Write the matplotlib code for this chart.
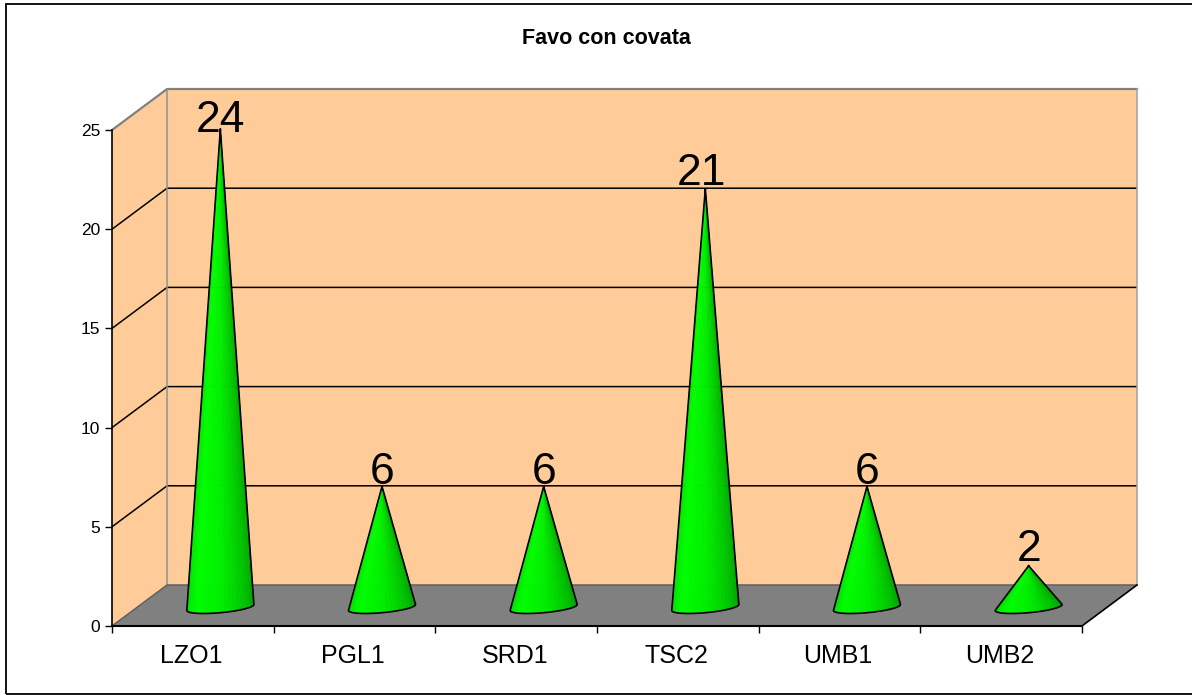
import numpy as np
import matplotlib
matplotlib.use('Agg')
import matplotlib.pyplot as plt
from matplotlib.patches import Polygon, Rectangle
from matplotlib.colors import LinearSegmentedColormap
from matplotlib.transforms import ScaledTranslation

plt.rcParams['font.family'] = ['Liberation Sans', 'DejaVu Sans']

categorie = ['LZO1', 'PGL1', 'SRD1', 'TSC2', 'UMB1', 'UMB2']
favo = [24, 6, 6, 21, 6, 2]
yticks = [0, 5, 10, 15, 20, 25]
griglia = [5, 10, 15, 20]

# pixel layout of the reference
W, H = 1192, 695
left, right, top, bottom = 112, 1137, 89, 626
cat_px = 161.5
unit_px = 19.84
dx = 55 / cat_px   # depth of the box, in category units
dy = 41 / unit_px  # depth of the box, in value units
ymax = 25
n = len(categorie)

# nudges of the big labels, in pixels
nudge_x = [0.5, 0, 0, -3.5, 0, 0]
nudge_y = [-3, 2, 2, 4, 2, 5]

fig = plt.figure(figsize=(W / 100, H / 100), dpi=100)
fig.patches.append(Rectangle((6 / W, 1.5 / H), W / W, (H - 5.5) / H,
                             transform=fig.transFigure, fill=False,
                             edgecolor='black', linewidth=1.3))
ax = fig.add_axes([left / W, 1 - bottom / H, (right - left) / W, (bottom - top) / H])
ax.set_xlim(-0.5, n - 0.5 + dx)
ax.set_ylim(0, ymax + dy)
ax.patch.set_visible(False)

x0, x1 = -0.5, n - 0.5

# walls and floor
ax.add_patch(Polygon([(x0 + dx, dy), (x1 + dx, dy), (x1 + dx, ymax + dy), (x0 + dx, ymax + dy)],
                     facecolor='#FFCC99', edgecolor='none', zorder=1))
ax.add_patch(Polygon([(x0, 0), (x0 + dx, dy), (x0 + dx, ymax + dy), (x0, ymax)],
                     facecolor='#FFCC99', edgecolor='none', zorder=1))
ax.add_patch(Polygon([(x0, 0), (x0 + dx, dy), (x1 + dx, dy), (x1, 0)],
                     facecolor='#808080', edgecolor='none', zorder=1))

# gridlines on back and left wall
for v in griglia:
    ax.plot([x0, x0 + dx, x1 + dx], [v, v + dy, v + dy], color='black', lw=1.1, zorder=2)

# box edges
ax.plot([x0, x0 + dx, x1 + dx], [ymax, ymax + dy, ymax + dy], color='#808080', lw=1.6, zorder=2,
        clip_on=False)
ax.plot([x0 + dx, x0 + dx], [dy, ymax + dy], color='#909090', lw=1.1, zorder=2)
ax.plot([x1 + dx, x1 + dx], [dy, ymax + dy], color='#A0A0A0', lw=1.1, zorder=2, clip_on=False)
ax.plot([x0, x0 + dx, x1 + dx], [0, dy, dy], color='#606060', lw=1.1, zorder=2)
ax.plot([x1, x1 + dx], [0, dy], color='black', lw=1.2, zorder=2, clip_on=False)

# cones
verde = LinearSegmentedColormap.from_list('verde', ['#00D800', '#00FF00', '#00F000', '#00C800', '#009C00'])
theta = np.linspace(0, np.pi, 25)
base_r = 33.5 / cat_px
cx_bx = -np.cos(theta)
cx_by = np.sin(theta)
for i, v in enumerate(favo):
    cx = i + dx / 2
    cy = dy / 2
    bx = cx + base_r * cx_bx
    by = cy - (2 + 5.2 * cx_by - 3 * cx_bx) / unit_px
    tip = cy + v
    for k in range(len(theta) - 1):
        ax.add_patch(Polygon([(cx, tip), (bx[k], by[k]), (bx[k + 1], by[k + 1])],
                             facecolor=verde(k / (len(theta) - 2)),
                             edgecolor=verde(k / (len(theta) - 2)), lw=0.4, zorder=3))
    ax.plot(np.r_[cx, bx, cx], np.r_[tip, by, tip], color='black', lw=1.2, zorder=4,
            solid_joinstyle='round')
    ax.annotate(str(v), (cx, tip), xytext=(nudge_x[i], nudge_y[i]), textcoords='offset pixels',
                ha='center', va='baseline', fontsize=32, color='black', zorder=5)

# axes
for s in ['top', 'right']:
    ax.spines[s].set_visible(False)
ax.spines['left'].set_bounds(0, ymax)
ax.spines['bottom'].set_bounds(x0, x1)
ax.spines['left'].set_linewidth(1.2)
ax.spines['bottom'].set_linewidth(1.5)
ax.spines['left'].set_zorder(6)
ax.spines['bottom'].set_zorder(6)
ax.set_yticks(yticks)
ax.tick_params(axis='y', labelsize=12.5, length=5, width=1, pad=3.6)
ax.set_xticks(np.arange(n + 1) - 0.5)
ax.set_xticklabels([])
ax.tick_params(axis='x', which='major', length=5, width=1)
ax.set_xticks(np.arange(n), minor=True)
ax.set_xticklabels(categorie, minor=True, fontsize=18)
ax.tick_params(axis='x', which='minor', length=0, pad=13)
sposta = ScaledTranslation(-1.5 / 100, 0, fig.dpi_scale_trans)
for lab in ax.get_xticklabels(minor=True):
    lab.set_transform(lab.get_transform() + sposta)

fig.text(606.5 / W, 1 - 38 / H, 'Favo con covata', ha='center', va='center',
         fontsize=15.5, fontweight='bold')

fig.savefig('out.png', dpi=100)
